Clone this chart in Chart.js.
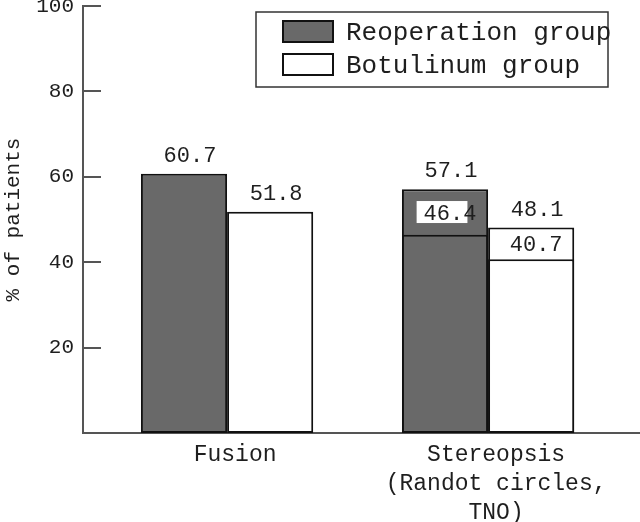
<!DOCTYPE html>
<html lang="en">
<head>
  <meta charset="UTF-8">
  <title>Fusion and stereopsis by group</title>
  <script src="https://cdn.jsdelivr.net/npm/chart.js"></script>
  <style>
    body {
      margin: 0;
      background: #fff;
    }
    .chart-box {
      position: relative;
      width: 640px;
      height: 522px;
    }
  </style>
</head>
<body>
  <div class="chart-box"><canvas id="outcomeChart"></canvas></div>

  <script>
    const categories = ['Fusion', ['Stereopsis', '(Randot circles,', 'TNO)']];
    const seriesNames = ['Reoperation group', 'Botulinum group'];
    const reoperation = [60.7, 57.1];
    const botulinum = [51.8, 48.1];
    // stereopsis bars are split at a second value
    const reoperationInner = [null, 46.4];
    const botulinumInner = [null, 40.7];
    const yTicks = [20, 40, 60, 80, 100];

    const FONT = "'Liberation Mono', 'DejaVu Sans Mono', monospace";
    const DARK = '#696969';
    const INK = '#1e1e1e';
    const AXIS = '#555';

    const points = arr => arr.map((v, i) => ({ x: i, y: v }));

    const barStyle = (fill) => ({
      backgroundColor: fill,
      borderColor: '#111',
      borderWidth: 2,
      borderSkipped: false,
      categoryPercentage: 0.66,
      barPercentage: 1
    });

    const valueLabels = {
      id: 'valueLabels',
      afterDatasetsDraw(chart) {
        const ctx = chart.ctx;
        ctx.save();
        ctx.font = '22px ' + FONT;
        ctx.fillStyle = INK;
        ctx.textAlign = 'center';
        ctx.textBaseline = 'alphabetic';
        // totals above bars (datasets 2 and 3)
        [2, 3].forEach(di => {
          const meta = chart.getDatasetMeta(di);
          const values = chart.data.datasets[di].data;
          meta.data.forEach((bar, i) => {
            if (values[i].y == null) return;
            ctx.fillText(values[i].y.toFixed(1), bar.x + 6, bar.y - 12);
          });
        });
        // inner values, centred in the upper segment
        [0, 1].forEach(di => {
          const meta = chart.getDatasetMeta(di);
          const outer = chart.getDatasetMeta(di + 2);
          const values = chart.data.datasets[di].data;
          meta.data.forEach((bar, i) => {
            if (values[i].y == null) return;
            const mid = (bar.y + outer.data[i].y) / 2;
            const txt = values[i].y.toFixed(1);
            if (di === 0) {
              const w = ctx.measureText(txt).width;
              ctx.fillStyle = '#fff';
              ctx.fillRect(bar.x - w / 2 - 2, mid - 11, w - 2, 22);
              ctx.fillStyle = INK;
            }
            ctx.fillText(txt, bar.x + 5, mid + 8);
          });
        });
        ctx.restore();
      }
    };

    const boxLegend = {
      id: 'boxLegend',
      afterDraw(chart) {
        const ctx = chart.ctx;
        ctx.save();
        ctx.strokeStyle = '#333';
        ctx.lineWidth = 1.5;
        ctx.fillStyle = '#fff';
        ctx.fillRect(256, 12, 352, 75);
        ctx.strokeRect(256, 12, 352, 75);
        ctx.font = '26px ' + FONT;
        ctx.textBaseline = 'middle';
        const fills = [DARK, '#fff'];
        seriesNames.forEach((name, i) => {
          const y = 21 + i * 33;
          ctx.fillStyle = fills[i];
          ctx.fillRect(283, y, 50, 21);
          ctx.strokeStyle = '#111';
          ctx.lineWidth = 2;
          ctx.strokeRect(283, y, 50, 21);
          ctx.fillStyle = INK;
          ctx.fillText(name, 346, y + 12);
        });
        ctx.restore();
      }
    };

    new Chart(document.getElementById('outcomeChart'), {
      type: 'bar',
      data: {
        datasets: [
          Object.assign({ label: seriesNames[0] + ' inner', data: points(reoperationInner), stack: 'r', order: 0 }, barStyle(DARK)),
          Object.assign({ label: seriesNames[1] + ' inner', data: points(botulinumInner), stack: 'b', order: 0 }, barStyle('#fff')),
          Object.assign({ label: seriesNames[0], data: points(reoperation), stack: 'r', order: 1 }, barStyle(DARK)),
          Object.assign({ label: seriesNames[1], data: points(botulinum), stack: 'b', order: 1 }, barStyle('#fff'))
        ]
      },
      options: {
        responsive: true,
        maintainAspectRatio: false,
        animation: false,
        layout: { padding: { top: 6, right: 0, left: 0, bottom: 0 } },
        plugins: {
          legend: { display: false },
          tooltip: { enabled: false }
        },
        scales: {
          x: {
            type: 'linear',
            stacked: true,
            offset: false,
            min: -0.552,
            max: 1.582,
            grid: { display: false, drawTicks: false },
            border: { color: AXIS, width: 2 },
            afterBuildTicks: scale => {
              scale.ticks = categories.map((c, i) => ({ value: i }));
            },
            afterFit: scale => {
              scale.height = 89;
              scale.paddingLeft = 0;
              scale.paddingRight = 0;
            },
            ticks: {
              autoSkip: false,
              maxRotation: 0,
              padding: 7,
              labelOffset: 8,
              color: INK,
              font: { family: FONT, size: 23, lineHeight: 1.27 },
              callback: value => categories[value]
            }
          },
          y: {
            stacked: false,
            min: 0,
            max: 100,
            grid: { drawOnChartArea: false, tickLength: -18, color: AXIS, lineWidth: 2 },
            border: { color: AXIS, width: 2 },
            afterBuildTicks: scale => {
              scale.ticks = yTicks.map(v => ({ value: v }));
            },
            afterFit: scale => {
              scale.width = 83;
              scale.paddingTop = 0;
              scale.paddingBottom = 0;
            },
            ticks: {
              padding: 27,
              color: INK,
              font: { family: FONT, size: 21 }
            },
            title: {
              display: true,
              text: '% of patients',
              color: INK,
              padding: 1,
              font: { family: FONT, size: 21 }
            }
          }
        }
      },
      plugins: [valueLabels, boxLegend]
    });
  </script>
</body>
</html>
